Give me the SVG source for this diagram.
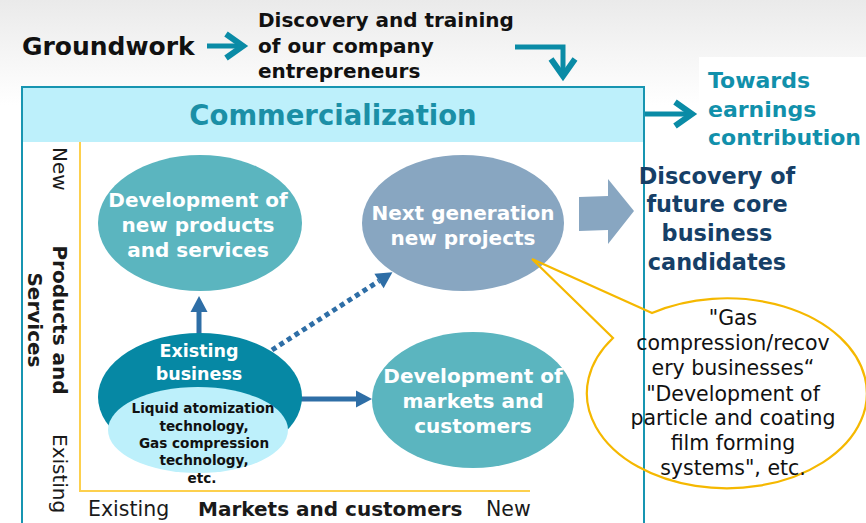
<svg xmlns="http://www.w3.org/2000/svg" width="866" height="523" viewBox="0 0 866 523">
  <defs>
    <linearGradient id="bgTop" x1="0" y1="0" x2="0" y2="1">
      <stop offset="0" stop-color="#eaeaea"/>
      <stop offset="0.5" stop-color="#f5f5f5"/>
      <stop offset="1" stop-color="#ffffff"/>
    </linearGradient>
    <!-- open teal chevron head -->
    <marker id="chev" markerUnits="userSpaceOnUse" viewBox="-30 -20 40 40" markerWidth="40" markerHeight="40" refX="0" refY="0" orient="auto" overflow="visible">
      <path d="M-17,-12 L0,0 L-17,12" fill="none" stroke="#0a8ba6" stroke-width="6"/>
    </marker>
    <!-- solid blue triangle head, placed past the line end -->
    <marker id="tri" markerUnits="userSpaceOnUse" viewBox="0 -10 20 20" markerWidth="20" markerHeight="20" refX="0" refY="0" orient="auto" overflow="visible">
      <path d="M0,-8.5 L16,0 L0,8.5 z" fill="#2e6ea6"/>
    </marker>
  </defs>
  <style>
    text { font-family: "DejaVu Sans", Verdana, sans-serif; }
    .b { font-weight: bold; }
    .c { text-anchor: middle; }
    .teal-arrow { fill: none; stroke: #0a8ba6; stroke-width: 5; marker-end: url(#chev); }
    .blue-arrow { fill: none; stroke: #2e6ea6; stroke-width: 5; marker-end: url(#tri); }
    .axis { stroke: #fdd04d; stroke-width: 2; fill: none; }
    .bubble-txt { fill: #ffffff; font-weight: bold; font-size: 20px; text-anchor: middle; }
    .note { font-size: 20.5px; text-anchor: middle; fill: #111111; }
  </style>

  <!-- backdrop -->
  <rect x="0" y="0" width="866" height="523" fill="#ffffff"/>
  <rect x="0" y="0" width="866" height="105" fill="url(#bgTop)"/>
  <rect x="699" y="57" width="167" height="100" fill="#ffffff"/>

  <!-- frame with header band -->
  <g id="frame">
    <rect x="22" y="87" width="622" height="450" fill="#ffffff" stroke="#1795b1" stroke-width="2"/>
    <rect x="23" y="88" width="620" height="54" fill="#bdf0fb"/>
    <text x="333" y="125" class="b c" font-size="27.5" fill="#1b8fa6">Commercialization</text>
  </g>

  <!-- axes -->
  <g id="axes">
    <path class="axis" d="M80,142 L80,491 L530,491"/>
    <text transform="translate(53,147) rotate(90)" font-size="20" fill="#1a1a1a">New</text>
    <text transform="translate(53,320) rotate(90)" class="b c" font-size="20" fill="#1a1a1a">Products and</text>
    <text transform="translate(28,320) rotate(90)" class="b c" font-size="20" fill="#1a1a1a">Services</text>
    <text transform="translate(53,434) rotate(90)" font-size="20" fill="#1a1a1a">Existing</text>
    <text x="88" y="516" font-size="20.5" fill="#1a1a1a">Existing</text>
    <text x="198" y="516" class="b" font-size="20" fill="#1a1a1a">Markets and customers</text>
    <text x="486" y="516" font-size="20.5" fill="#1a1a1a">New</text>
  </g>

  <!-- connectors -->
  <g id="connectors">
    <path class="teal-arrow" d="M207,46 L243,46"/>
    <path class="teal-arrow" d="M515,47 L563,47 L563,76"/>
    <path class="teal-arrow" d="M645,114 L692,114"/>
    <path class="blue-arrow" d="M199,334 L199,312"/>
    <path class="blue-arrow" d="M300,399 L356,399"/>
    <path class="blue-arrow" d="M272,350 L379,281" stroke-dasharray="5 4"/>
    <polygon points="579,197 608,196 608,179 634,211 608,244 608,230 579,231" fill="#88a6c1"/>
  </g>

  <!-- top labels -->
  <g id="groundwork">
    <text x="22" y="55" class="b" font-size="25" fill="#111111">Groundwork</text>
  </g>
  <g id="entrepreneurs">
    <text x="258" y="27" class="b" font-size="20" fill="#111111">Discovery and training</text>
    <text x="258" y="53" class="b" font-size="20" fill="#111111">of our company</text>
    <text x="258" y="78" class="b" font-size="20" fill="#111111">entrepreneurs</text>
  </g>
  <g id="earnings">
    <text x="708" y="88" class="b" font-size="22" fill="#1190ab">Towards</text>
    <text x="708" y="117" class="b" font-size="22" fill="#1190ab">earnings</text>
    <text x="708" y="145" class="b" font-size="22" fill="#1190ab">contribution</text>
  </g>

  <!-- quadrant nodes -->
  <g id="new-products">
    <ellipse cx="200" cy="223" rx="102" ry="68" fill="#5bb5bf"/>
    <text x="198" y="207" class="bubble-txt">Development of</text>
    <text x="198" y="232" class="bubble-txt">new products</text>
    <text x="198" y="257" class="bubble-txt">and services</text>
  </g>
  <g id="existing-business">
    <ellipse cx="200" cy="397" rx="102" ry="64" fill="#0688a4"/>
    <ellipse cx="198" cy="430" rx="90" ry="43" fill="#bdf0fb"/>
    <text x="199" y="357" class="bubble-txt" style="font-size:17.5px">Existing</text>
    <text x="199" y="380" class="bubble-txt" style="font-size:17.5px">business</text>
    <text x="203" y="413" class="b c" font-size="13.6" fill="#111111">Liquid atomization</text>
    <text x="204" y="431" class="b c" font-size="13.6" fill="#111111">technology,</text>
    <text x="204" y="448" class="b c" font-size="13.6" fill="#111111">Gas compression</text>
    <text x="204" y="465" class="b c" font-size="13.6" fill="#111111">technology,</text>
    <text x="202" y="483" class="b c" font-size="13.6" fill="#111111">etc.</text>
  </g>
  <g id="next-generation">
    <ellipse cx="463" cy="223" rx="101" ry="68" fill="#88a6c1"/>
    <text x="463" y="220" class="bubble-txt">Next generation</text>
    <text x="463" y="245" class="bubble-txt">new projects</text>
  </g>
  <g id="new-markets">
    <ellipse cx="473" cy="400" rx="101" ry="68" fill="#5bb5bf"/>
    <text x="473" y="383" class="bubble-txt">Development of</text>
    <text x="473" y="408" class="bubble-txt">markets and</text>
    <text x="473" y="433" class="bubble-txt">customers</text>
  </g>

  <!-- outcome -->
  <g id="future-core">
    <text x="717" y="184" class="b c" font-size="22.4" fill="#163f67">Discovery of</text>
    <text x="717" y="212" class="b c" font-size="22.4" fill="#163f67">future core</text>
    <text x="717" y="241" class="b c" font-size="22.4" fill="#163f67">business</text>
    <text x="717" y="270" class="b c" font-size="22.4" fill="#163f67">candidates</text>
  </g>

  <!-- speech bubble pointing at the next-generation projects -->
  <g id="callout">
    <path d="M652,313 L532,259 L613,338 A140 95 0 1 0 652,313 Z" fill="none" stroke="#f5b800" stroke-width="2.2"/>
    <text x="733" y="325" class="note">"Gas</text>
    <text x="733" y="350" class="note">compression/recov</text>
    <text x="733" y="375" class="note">ery businesses“</text>
    <text x="733" y="401" class="note">"Development of</text>
    <text x="733" y="425" class="note">particle and coating</text>
    <text x="733" y="450" class="note">film forming</text>
    <text x="733" y="475" class="note">systems", etc.</text>
  </g>
</svg>
